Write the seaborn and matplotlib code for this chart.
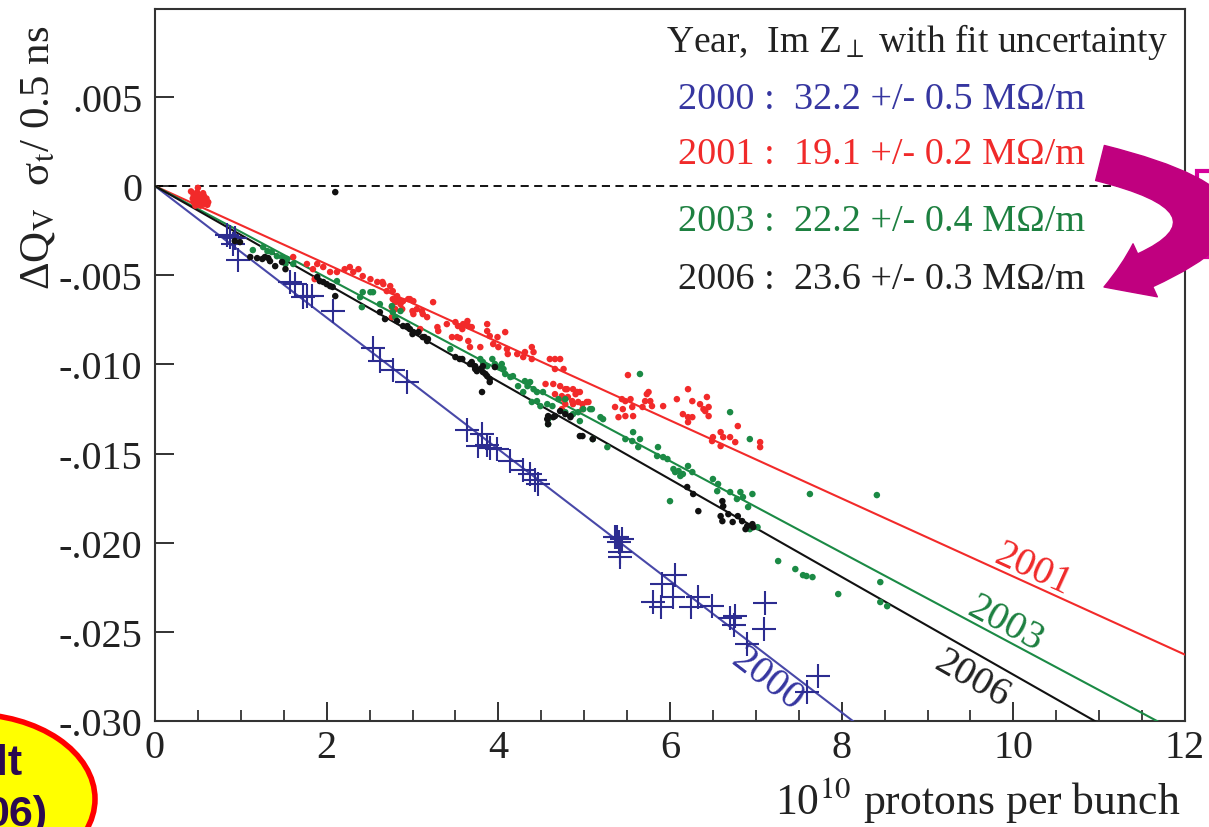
import numpy as np
import matplotlib
matplotlib.use("Agg")
import matplotlib.pyplot as plt
import seaborn as sns
from matplotlib.patches import Ellipse, Rectangle, FancyArrowPatch

# ---------------- data (x: 1e10 protons per bunch, y: dQv in units of 1e-3) -------------
x_2000 = [0.84, 0.87, 0.93, 0.91, 0.97, 1.57, 1.63, 1.72, 1.77, 1.83, 2.07, 2.54, 2.62,
          2.77, 2.94, 3.64, 3.81, 3.76, 3.87, 3.90, 3.99, 4.14, 4.29, 4.37, 4.43, 4.46,
          5.36, 5.38, 5.40, 5.44, 5.42, 5.42, 6.06, 5.91, 5.80, 6.03, 5.89, 6.24, 6.33,
          6.49, 6.70, 6.76, 6.74, 7.11, 7.09, 6.90, 7.73, 7.60]
y_2000 = [-2.75, -2.86, -2.92, -3.25, -4.15, -5.38, -5.50, -6.23, -6.17, -6.17, -7.01,
          -9.10, -9.80, -10.3, -11.0, -13.7, -13.9, -14.6, -14.5, -14.7, -14.75, -15.4,
          -15.9, -16.15, -16.5, -16.7, -19.7, -19.7, -19.97, -19.8, -20.5, -20.8, -21.8,
          -22.3, -23.3, -23.05, -23.6, -23.6, -23.05, -23.55, -24.2, -24.1, -24.6, -23.4,
          -24.85, -25.7, -27.5, -28.4]

x_2001 = [0.42, 0.45, 0.48, 0.50, 0.52, 0.55, 0.45, 0.58, 0.60, 0.47, 0.53, 0.56, 0.62, 0.44, 0.50,
          0.49, 0.57, 0.61, 0.54, 0.47, 0.59, 0.51,
          1.61, 1.77, 1.84, 1.89, 1.96, 1.86, 2.04, 2.12, 2.21, 2.27, 2.31, 2.37, 2.42, 2.51,
          2.59, 2.66, 2.74, 2.82, 2.80, 2.76, 2.89, 2.95,
          2.65, 2.70, 2.77, 2.77, 2.83, 2.86, 2.88, 2.80, 2.76, 2.97, 3.01, 3.00, 3.05, 3.11,
          3.01, 3.12, 3.17, 3.24, 3.09, 3.29, 3.30, 3.40, 3.50, 3.53, 3.59, 3.64, 3.65, 3.69,
          3.58, 3.46, 3.52, 3.55, 3.65, 3.67, 3.79, 3.87, 3.87, 3.90, 3.99, 3.94, 4.08, 4.00,
          4.10, 4.11, 4.22, 4.31, 4.29, 4.39, 4.41, 4.39, 4.60, 4.66, 4.72, 4.66, 4.76, 4.55,
          4.64, 4.72, 4.78, 4.87, 4.92, 4.66, 4.74, 4.81, 4.86, 4.78, 4.87, 4.93, 4.98, 5.05,
          4.74, 4.80, 4.90, 4.95, 4.76, 5.03, 4.98, 5.51, 5.44, 5.48, 5.54, 5.36, 5.45, 5.56,
          5.40, 5.48, 5.57, 5.68, 5.73, 5.75, 5.71, 5.77, 5.79, 5.92, 6.08, 6.21, 6.26, 6.21,
          6.26, 6.21, 6.15, 6.35, 6.39, 6.43, 6.41, 6.45, 6.45, 6.59, 6.50, 6.49, 6.62, 6.70,
          6.76, 6.59, 6.79, 7.05, 7.05]
y_2001 = [-0.30, -0.50, -0.70, -0.90, -0.60, -0.80, -0.90, -1.00, -0.70, -1.10, -1.10, -0.40, -0.90, -0.70, -0.10,
          -0.35, -0.55, -1.05, -1.00, -0.55, -0.85, -0.75,
          -3.98, -4.37, -4.66, -4.37, -4.54, -5.22, -4.82, -4.82, -4.66, -4.54, -4.82, -4.66, -5.05, -5.22,
          -5.38, -5.50, -5.61, -6.17, -6.51, -6.79, -6.45, -6.34,
          -5.38, -5.89, -5.89, -6.34, -6.34, -6.62, -6.90, -6.90, -7.35, -6.34, -6.45, -7.01, -6.90, -7.01,
          -7.18, -7.18, -7.35, -6.51, -8.02, -7.91, -8.13, -7.74, -7.63, -7.85, -7.74, -7.57, -7.85, -7.91,
          -8.02, -8.47, -8.47, -8.53, -8.69, -9.03, -9.03, -7.74, -8.13, -8.41, -8.47, -8.86, -8.19, -9.03,
          -9.14, -9.42, -9.42, -9.31, -9.59, -9.03, -9.31, -9.70, -9.70, -9.70, -9.70, -10.26, -10.26, -11.10,
          -11.10, -11.22, -11.39, -11.39, -11.55, -11.67, -11.78, -11.83, -12.06, -12.23, -12.23, -12.11, -12.23, -12.11,
          -12.51, -11.39, -11.67, -11.55, -11.95, -12.11, -12.51, -10.60, -11.95, -12.06, -11.95, -12.39, -12.51, -12.39,
          -12.96, -12.90, -12.90, -12.39, -11.67, -11.55, -12.06, -12.06, -12.34, -12.34, -11.95, -11.39, -12.06, -12.96,
          -12.96, -13.24, -12.79, -12.23, -12.51, -11.83, -12.62, -12.90, -12.39, -13.80, -14.08, -14.30, -14.08, -14.08,
          -14.36, -14.58, -13.46, -14.36, -14.64]

x_2003 = [1.14, 1.26, 1.31, 1.36, 1.42, 1.48, 1.54, 1.52, 1.61, 2.12, 2.39, 2.42, 2.51, 2.54,
          2.62, 2.41, 2.77, 2.86, 2.76, 2.80, 3.44, 3.79, 3.82, 3.87, 3.93, 3.96, 4.00, 4.04,
          4.06, 4.08, 4.14, 4.17, 4.23, 4.31, 4.34, 4.37, 4.41, 4.29, 4.45, 4.52, 4.39, 4.45,
          4.49, 4.57, 4.63, 4.70, 4.58, 4.58, 4.78, 4.87, 4.95, 4.99, 5.07, 5.19, 5.22, 5.10,
          5.65, 4.78, 4.93, 5.09, 5.27, 5.48, 5.57, 5.56, 5.65, 5.63, 5.86, 5.85, 5.92, 5.97,
          6.04, 6.06, 6.10, 6.12, 6.15, 6.21, 6.26, 6.00, 6.50, 6.55, 6.56, 6.70, 6.82, 6.96,
          6.78, 6.85, 6.91, 6.70, 6.93, 6.93, 7.02, 7.63, 8.41, 7.26, 7.46, 7.55, 7.59, 7.66,
          7.96, 8.45, 8.45, 8.53]
y_2003 = [-3.59, -3.42, -3.65, -3.70, -3.93, -3.98, -4.09, -4.37, -4.37, -5.33, -6.23, -5.95, -5.95, -5.95,
          -6.62, -6.79, -7.07, -7.01, -6.73, -7.35, -9.14, -9.70, -9.87, -10.10, -9.70, -9.98, -10.15, -9.98,
          -10.26, -10.54, -10.71, -10.66, -11.22, -10.94, -11.22, -10.99, -11.39, -11.55, -11.55, -11.55, -12.11, -12.06,
          -12.34, -12.23, -12.34, -11.95, -13.07, -13.35, -12.68, -12.79, -13.18, -12.51, -12.51, -12.96, -13.07, -14.19,
          -10.54, -11.95, -12.68, -12.51, -14.64, -14.19, -13.80, -14.30, -14.19, -14.64, -14.64, -15.14, -15.20, -15.31,
          -15.87, -16.04, -15.98, -16.26, -16.15, -15.70, -16.04, -17.67, -16.43, -17.11, -16.71, -17.16, -17.16, -17.27,
          -17.55, -17.44, -18.00, -12.68, -14.19, -19.24, -19.13, -17.27, -17.33, -21.03, -21.48, -21.82, -21.87, -21.93,
          -22.88, -22.21, -23.33, -23.56]

x_2006 = [2.10, 0.93, 0.99, 1.11, 1.19, 1.25, 1.28, 1.32, 1.34, 1.40, 1.48, 1.52, 1.89, 1.92,
          1.96, 2.00, 2.04, 2.07, 2.10, 2.82, 2.94, 2.62, 2.68, 2.97, 3.01, 3.07, 3.12, 3.18,
          3.50, 3.58, 3.67, 3.73, 3.75, 3.79, 3.82, 3.87, 3.90, 3.96, 3.81, 4.58, 4.64, 4.78,
          4.84, 4.95, 4.72, 4.98, 6.20, 6.27, 6.33, 6.61, 6.62, 6.59, 6.61, 6.68, 6.73, 6.79,
          6.84, 6.90, 6.96, 6.97, 6.88, 2.89, 3.00, 3.14, 3.17, 3.55, 3.69, 3.73, 3.82, 3.85,
          3.90, 4.57, 4.58, 4.66, 4.84, 5.10]
y_2006 = [-0.34, -3.08, -3.14, -3.98, -4.04, -4.09, -3.98, -4.04, -4.21, -4.49, -4.26, -4.66, -5.10, -5.33,
          -5.38, -5.50, -5.61, -5.66, -6.17, -7.57, -7.85, -7.07, -7.46, -8.02, -8.19, -8.19, -8.47, -8.58,
          -9.59, -9.70, -9.98, -10.10, -10.38, -10.26, -10.43, -10.66, -10.99, -10.15, -11.55, -12.90, -12.96, -12.79,
          -12.96, -14.02, -12.62, -14.02, -16.88, -17.27, -18.23, -17.67, -17.95, -18.51, -18.79, -18.40, -18.84, -18.51,
          -18.79, -19.07, -18.96, -19.13, -19.24, -7.85, -8.30, -8.47, -8.69, -9.70, -9.87, -10.26, -10.10, -10.54,
          -10.82, -13.07, -13.35, -12.90, -12.90, -14.19]

fit_years = ["2000", "2001", "2003", "2006"]
fit_slopes = [-3.69, -2.19, -2.57, -2.74]          # 1e-3 per 1e10 protons
legend_header = r"Year,  Im Z$_{\perp}$ with fit uncertainty"
legend_lines = ["2000 :  32.2 +/- 0.5 M\u03a9/m",
                "2001 :  19.1 +/- 0.2 M\u03a9/m",
                "2003 :  22.2 +/- 0.4 M\u03a9/m",
                "2006 :  23.6 +/- 0.3 M\u03a9/m"]
x_ticks = [0, 2, 4, 6, 8, 10, 12]
y_ticks = [5, 0, -5, -10, -15, -20, -25, -30]
y_tick_labels = [".005", "0", "-.005", "-.010", "-.015", "-.020", "-.025", "-.030"]

# ---------------- style ----------------
sns.set_theme(style="ticks")
plt.rcParams['font.family'] = ['Liberation Serif', 'DejaVu Serif']
plt.rcParams['mathtext.fontset'] = 'stix'

c_blue, c_blue_m = '#4848a8', '#2c2c90'
c_red = '#f22a2a'
c_green = '#1b8a45'
c_black = '#111111'
line_cols = [c_blue, c_red, c_green, c_black]
text_cols = ['#3636a0', '#f02a2a', '#1d8040', '#222222']

W, H = 1209, 828
fig = plt.figure(figsize=(W / 100, H / 100), dpi=100)
ax = fig.add_axes([155 / W, 1 - 722 / H, 1030 / W, 712 / H])

# fit lines
xx = np.array([0.0, 12.0])
for yr, sl, col in zip(fit_years, fit_slopes, line_cols):
    sns.lineplot(x=xx, y=sl * xx, color=col, lw=1.5, ax=ax, zorder=3)

ax.axhline(0, color='black', lw=1.3, ls=(0, (4.5, 3)), zorder=2)

# data points
sns.scatterplot(x=x_2000, y=y_2000, marker='+', s=300, color=c_blue_m, linewidth=1.5, ax=ax, zorder=4)
sns.scatterplot(x=x_2001, y=y_2001, marker='o', s=22, color=c_red, edgecolor='none', linewidth=0, ax=ax, zorder=4)
sns.scatterplot(x=x_2003, y=y_2003, marker='o', s=22, color=c_green, edgecolor='none', linewidth=0, ax=ax, zorder=4)
sns.scatterplot(x=x_2006, y=y_2006, marker='o', s=22, color=c_black, edgecolor='none', linewidth=0, ax=ax, zorder=4)

ax.set_xlim(0, 12)
ax.set_ylim(-30, 9.93)
ax.set_xticks(x_ticks)
ax.set_xticklabels([str(t) for t in x_ticks])
ax.set_xticks(np.arange(0, 12.01, 0.5), minor=True)
ax.set_yticks(y_ticks)
ax.set_yticklabels(y_tick_labels)
ax.tick_params(axis='both', which='major', direction='in', length=14, width=1.3,
               labelsize=29, colors='#222222')
ax.tick_params(axis='x', which='major', pad=6)
ax.tick_params(axis='y', which='major', pad=9)
ax.tick_params(axis='x', which='minor', direction='in', length=8, width=1.2, color='#222222')
for sp in ax.spines.values():
    sp.set_visible(True)
    sp.set_color('#333333')
    sp.set_linewidth(1.5)
ax.set_xlabel('')
ax.set_ylabel('')

# line labels
lab_pos = {"2001": (10.23, 12, -24.5), "2003": (9.91, 12, -28.1),
           "2006": (9.52, -20, -29.7), "2000": (7.13, -17, -37.5)}
for yr, sl, col in zip(fit_years, fit_slopes, text_cols):
    xp, dy, rot = lab_pos[yr]
    ax.annotate(yr, xy=(xp, sl * xp), xytext=(0, dy), textcoords='offset points',
                ha='center', va='center', rotation=rot, fontsize=29, color=col)

# legend-like text block
fig.text(1168 / W, 1 - 42 / H, legend_header, ha='right', va='center', fontsize=27, color='#222222')
for txt, col, yp in zip(legend_lines, text_cols, [100, 155, 222, 280]):
    fig.text(678 / W, 1 - yp / H, txt, ha='left', va='center', fontsize=27.5, color=col)

# axis titles
fig.text(1180 / W, 1 - 800 / H, r"10$^{10}$ protons per bunch", ha='right', va='center',
         fontsize=31.5, color='#222222')
fig.text(38 / W, 1 - 158 / H, "\u0394Q$_{\\rm V}$  \u03c3$_{\\rm t}$/ 0.5 ns", ha='center', va='center',
         rotation=90, fontsize=31, color='#222222')

# overlay decorations
ell = Ellipse((-30 / W, 1 - 800 / H), 250 / W, 170 / H, transform=fig.transFigure,
              facecolor='#ffff00', edgecolor='#ff0000', lw=4, zorder=10)
fig.patches.append(ell)
fig.text(22 / W, 1 - 775 / H, "lt", ha='right', va='baseline', fontsize=31, fontweight='bold',
         family='Liberation Sans', color='#2b0a50', zorder=11)
fig.text(47 / W, 1 - 826 / H, "06)", ha='right', va='baseline', fontsize=31, fontweight='bold',
         family='Liberation Sans', color='#2b0a50', zorder=11)

rect = Rectangle((1197 / W, 1 - 258 / H), 40 / W, 86 / H, transform=fig.transFigure,
                 fill=False, edgecolor='#d6009a', lw=3, zorder=10)
fig.patches.append(rect)

arrow = FancyArrowPatch((1100 / W, 1 - 164 / H), (1104 / W, 1 - 288 / H),
                        transform=fig.transFigure,
                        connectionstyle="angle3,angleA=-14,angleB=20",
                        arrowstyle="simple,head_length=32,head_width=42,tail_width=26",
                        mutation_scale=1, shrinkA=0, shrinkB=0,
                        color='#c0007f', zorder=10)
fig.patches.append(arrow)

fig.savefig("out.png", dpi=100)
